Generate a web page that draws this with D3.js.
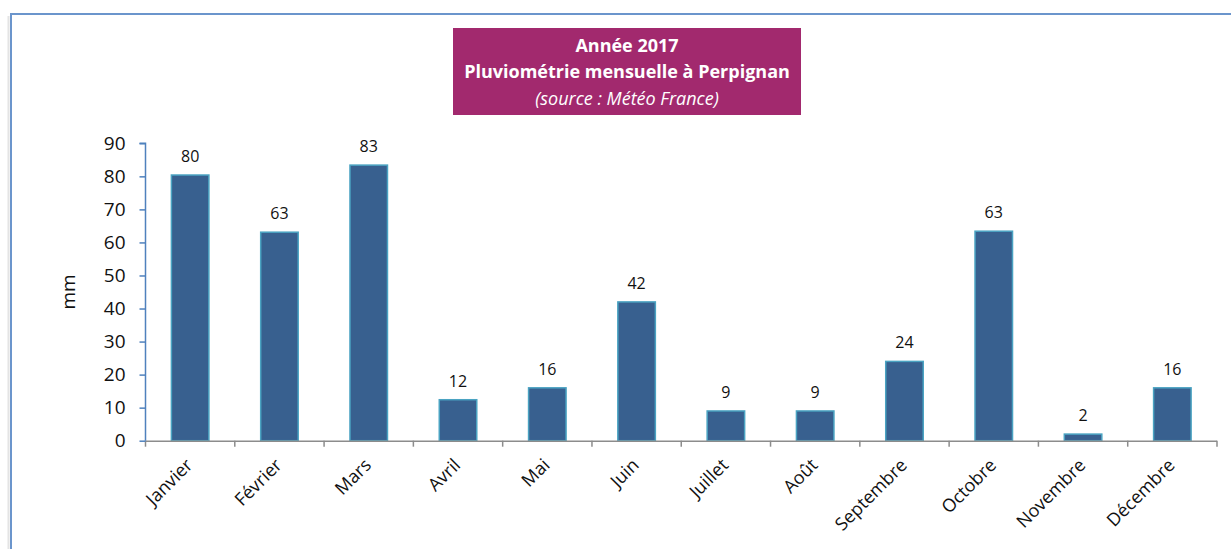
<!DOCTYPE html>
<html><head><meta charset="utf-8">
<script src="https://cdn.jsdelivr.net/npm/d3@7"></script>
<style>
html,body{margin:0;padding:0;background:#fff;overflow:hidden}
text{font-family:"Open Sans","Noto Sans",sans-serif}
</style></head>
<body>
<svg id="c" width="1231" height="549"></svg>
<script>
const months = ["Janvier","Février","Mars","Avril","Mai","Juin","Juillet","Août","Septembre","Octobre","Novembre","Décembre"];
const rainfall = [80.4, 63.1, 83.4, 12.4, 16.0, 42.0, 9.0, 9.0, 24.0, 63.4, 2.0, 16.0];
const yTicks = [0,10,20,30,40,50,60,70,80,90];
const titleLines = ["Année 2017","Pluviométrie mensuelle à Perpignan","(source : Météo France)"];
const yLabel = "mm";

const svg = d3.select("#c");
// frame
svg.append("rect").attr("x",11).attr("y",14).attr("width",1240).attr("height",560)
  .attr("fill","none").attr("stroke","#6b95cc").attr("stroke-width",2);
svg.append("line").attr("x1",8.5).attr("x2",8.5).attr("y1",16).attr("y2",549)
  .attr("stroke","#e4e4e4").attr("stroke-width",2);

const x0 = 145.5, x1 = 1217, y0 = 440.7, y90 = 143.3;
const x = d3.scaleBand().domain(months).range([x0,x1]).paddingInner(0.58).paddingOuter(0.29);
const y = d3.scaleLinear().domain([0,90]).range([y0,y90]);

// bars
svg.append("g").selectAll("rect").data(rainfall).join("rect")
  .attr("x",(d,i)=>x(months[i]))
  .attr("width",x.bandwidth())
  .attr("y",d=>y(d))
  .attr("height",d=>y0-y(d))
  .attr("fill","#38608f")
  .attr("stroke","#4aa3c2").attr("stroke-width",1.5);

// data labels
svg.append("g").selectAll("text").data(rainfall).join("text")
  .attr("x",(d,i)=>x(months[i])+x.bandwidth()/2)
  .attr("y",d=>y(d)-13)
  .attr("text-anchor","middle").attr("font-size",16).attr("fill","#111")
  .text(d=>Math.round(d));

// x axis
const xStep = (x1-x0)/months.length;
const xa = svg.append("g");
xa.append("line").attr("x1",x0).attr("x2",x1).attr("y1",y0+0.5).attr("y2",y0+0.5)
  .attr("stroke","#8c8c8c").attr("stroke-width",1.5);
xa.selectAll("line.t").data(d3.range(months.length+1)).join("line").attr("class","t")
  .attr("x1",i=>x0+i*xStep).attr("x2",i=>x0+i*xStep)
  .attr("y1",y0).attr("y2",y0+6).attr("stroke","#8c8c8c").attr("stroke-width",1.5);
xa.selectAll("text").data(months).join("text")
  .attr("transform",d=>`translate(${x(d)+x.bandwidth()/2-6},${y0+16}) rotate(-45)`)
  .attr("text-anchor","end").attr("dy","0.75em").attr("font-size",18).attr("fill","#111")
  .text(d=>d);

// y axis
const ya = svg.append("g").attr("transform",`translate(${x0},0)`)
  .call(d3.axisLeft(y).tickValues(yTicks).tickSize(6).tickPadding(14));
ya.select(".domain").attr("stroke","#4f81bd").attr("stroke-width",1.5).attr("d",`M-6,${y90}H0V${y0}`);
ya.selectAll(".tick line").attr("stroke","#4f81bd").attr("stroke-width",1.5);
ya.selectAll(".tick text").attr("font-size",19).attr("fill","#111")
  .attr("font-family","'Open Sans','Noto Sans',sans-serif");

svg.append("text").attr("transform",`translate(75,${(y0+y90)/2}) rotate(-90)`)
  .attr("text-anchor","middle").attr("font-size",19).attr("fill","#111").text(yLabel);

// title box
svg.append("rect").attr("x",453).attr("y",28).attr("width",348).attr("height",87).attr("fill","#a2296e");
const tcx = 627;
svg.append("text").attr("x",tcx).attr("y",52).attr("text-anchor","middle")
  .attr("font-size",18).attr("font-weight","bold").attr("fill","#fff").text(titleLines[0]);
svg.append("text").attr("x",tcx).attr("y",78).attr("text-anchor","middle")
  .attr("font-size",18).attr("font-weight","bold").attr("fill","#fff").text(titleLines[1]);
svg.append("text").attr("x",tcx).attr("y",105).attr("text-anchor","middle")
  .attr("font-size",18).attr("font-style","italic").attr("fill","#fff").text(titleLines[2]);
</script>
</body></html>
